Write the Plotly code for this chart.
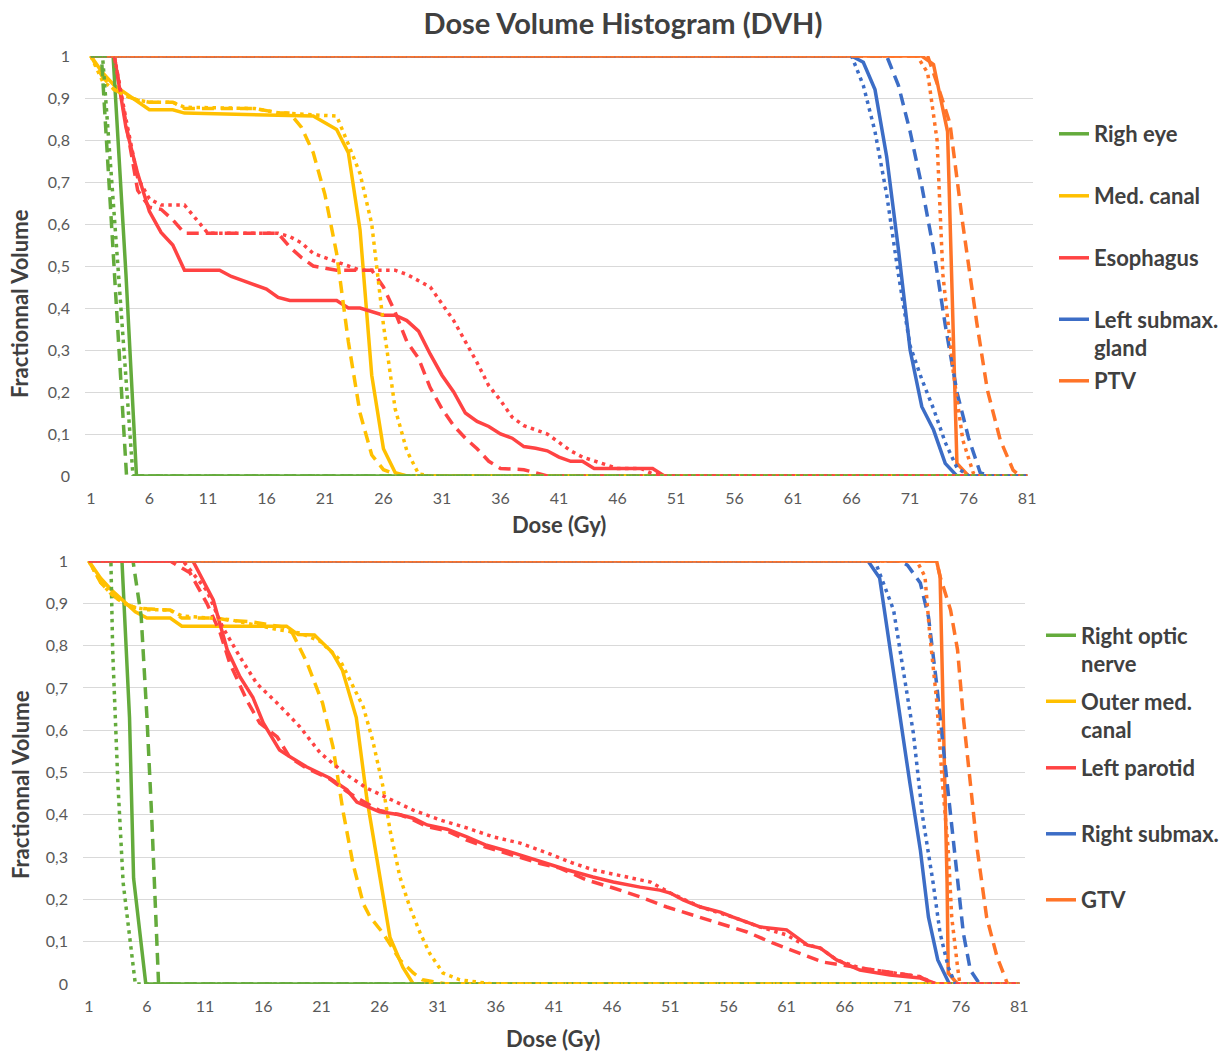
import plotly.graph_objects as go

W, H = 1222, 1051

# ------------------------------------------------------------------ labels
TITLE = "Dose Volume Histogram (DVH)"
X_TITLE = "Dose (Gy)"
Y_TITLE = "Fractionnal Volume"
TOP_NAMES = ["Righ eye", "Med. canal", "Esophagus", "Left submax.<br>gland", "PTV"]
BOTTOM_NAMES = ["Right optic<br>nerve", "Outer med.<br>canal", "Left parotid", "Right submax.", "GTV"]
X_TICKS = [1, 6, 11, 16, 21, 26, 31, 36, 41, 46, 51, 56, 61, 66, 71, 76, 81]
Y_TICKS = [0, 0.1, 0.2, 0.3, 0.4, 0.5, 0.6, 0.7, 0.8, 0.9, 1]

# ------------------------------------------------------------------ top chart data (dose Gy, fractional volume)
# Righ eye
T_EYE_SOLID_D = [1, 2.9, 4.0, 4.9, 81]
T_EYE_SOLID_V = [1, 1, 0.48, 0, 0]
T_EYE_DASH_D = [1, 1.9, 3.0, 4.05, 81]
T_EYE_DASH_V = [1, 1, 0.49, 0, 0]
T_EYE_DOT_D = [1, 2.0, 3.0, 4.0, 4.6, 81]
T_EYE_DOT_V = [1, 1, 0.62, 0.23, 0, 0]
# Med. canal
T_CAN_SOLID_D = [1, 2, 3, 4, 5, 6, 8, 9, 20, 21, 22, 23, 24, 25, 26, 27, 28, 81]
T_CAN_SOLID_V = [1, 0.96, 0.93, 0.91, 0.89, 0.872, 0.872, 0.864, 0.857, 0.84, 0.825, 0.77, 0.586, 0.24, 0.065, 0.008, 0, 0]
T_CAN_DASH_D = [1, 2, 3, 4, 5, 6, 8, 9, 15, 17, 18, 19, 20, 21, 22, 23, 24, 25, 26, 27, 28, 81]
T_CAN_DASH_V = [1, 0.95, 0.92, 0.905, 0.895, 0.89, 0.89, 0.875, 0.875, 0.865, 0.864, 0.83, 0.77, 0.67, 0.53, 0.32, 0.15, 0.05, 0.015, 0.004, 0, 0]
T_CAN_DOT_D = [1, 2, 3, 4, 5, 6, 8, 9, 15, 17, 20, 22, 23, 24, 25, 26, 27, 28, 29, 30, 81]
T_CAN_DOT_V = [1, 0.94, 0.92, 0.905, 0.895, 0.89, 0.89, 0.878, 0.875, 0.865, 0.86, 0.857, 0.79, 0.72, 0.6, 0.36, 0.16, 0.06, 0.005, 0, 0]
# Esophagus
T_ESO_SOLID_D = [1, 3, 4, 5, 6, 7, 8, 9, 12, 13, 14, 15, 16, 17, 18, 22, 23, 24, 25, 26, 27, 28, 29, 30, 31, 32,
                 33, 34, 35, 36, 37, 38, 39, 40, 41, 42, 43, 44, 49, 50, 81]
T_ESO_SOLID_V = [1, 1, 0.83, 0.72, 0.63, 0.58, 0.55, 0.49, 0.49, 0.475, 0.465, 0.455, 0.445, 0.425, 0.418, 0.418,
                 0.40, 0.40, 0.392, 0.383, 0.383, 0.37, 0.345, 0.29, 0.24, 0.2, 0.15, 0.13, 0.118, 0.1, 0.09, 0.07,
                 0.066, 0.06, 0.045, 0.035, 0.035, 0.018, 0.018, 0, 0]
T_ESO_DASH_D = [1, 3, 4, 5, 6, 7, 8, 9, 17, 18, 19, 20, 21, 22, 25, 26, 27, 28, 29, 30, 31, 32, 33, 34, 35, 36,
                38, 39, 40, 81]
T_ESO_DASH_V = [1, 1, 0.84, 0.68, 0.64, 0.635, 0.61, 0.578, 0.578, 0.545, 0.52, 0.5, 0.495, 0.49, 0.49, 0.45,
                0.39, 0.32, 0.28, 0.21, 0.16, 0.12, 0.09, 0.065, 0.035, 0.018, 0.015, 0.008, 0, 0]
T_ESO_DOT_D = [1, 3, 4, 5, 6, 7, 9, 10, 11, 17, 18, 19, 20, 21, 22, 23, 24, 27, 28, 29, 30, 31, 32, 33, 34, 35,
               36, 37, 38, 39, 40, 41, 42, 43, 44, 45, 46, 48, 49, 50, 81]
T_ESO_DOT_V = [1, 1, 0.85, 0.71, 0.66, 0.645, 0.645, 0.61, 0.578, 0.578, 0.57, 0.555, 0.53, 0.52, 0.51, 0.5, 0.49,
               0.49, 0.48, 0.465, 0.45, 0.41, 0.37, 0.32, 0.27, 0.215, 0.18, 0.14, 0.12, 0.11, 0.1, 0.08, 0.06,
               0.045, 0.035, 0.027, 0.018, 0.018, 0.005, 0, 0]
# Left submax. gland
T_SUB_SOLID_D = [1, 66, 67, 68, 69, 70, 71, 72, 73, 74, 75, 81]
T_SUB_SOLID_V = [1, 1, 0.985, 0.92, 0.76, 0.54, 0.3, 0.165, 0.11, 0.03, 0, 0]
T_SUB_DASH_D = [1, 69, 70, 71, 72, 73, 74, 75, 76, 77, 78, 81]
T_SUB_DASH_V = [1, 1, 0.93, 0.82, 0.69, 0.54, 0.36, 0.2, 0.09, 0.007, 0, 0]
T_SUB_DOT_D = [1, 66, 67, 68, 69, 70, 71, 72, 73, 74, 75, 76, 81]
T_SUB_DOT_V = [1, 1, 0.93, 0.82, 0.67, 0.48, 0.31, 0.23, 0.16, 0.08, 0.02, 0, 0]
# PTV
T_PTV_SOLID_D = [1, 72, 73, 74.2, 75, 76, 81]
T_PTV_SOLID_V = [1, 1, 0.98, 0.82, 0.03, 0, 0]
T_PTV_DASH_D = [1, 72.5, 73.3, 74.4, 75.5, 76.7, 77.6, 78.7, 79.8, 80.4, 81]
T_PTV_DASH_V = [1, 1, 0.935, 0.84, 0.6, 0.364, 0.205, 0.086, 0.014, 0, 0]
T_PTV_DOT_D = [1, 71.6, 72.5, 73.3, 73.8, 74.7, 75.5, 76.4, 77, 81]
T_PTV_DOT_V = [1, 1, 0.96, 0.8, 0.48, 0.245, 0.086, 0.007, 0, 0]

# ------------------------------------------------------------------ bottom chart data
# Right optic nerve
B_NRV_SOLID_D = [1, 3.85, 4.5, 4.85, 5.9, 81]
B_NRV_SOLID_V = [1, 1, 0.63, 0.25, 0, 0]
B_NRV_DASH_D = [1, 4.8, 5.5, 6.0, 6.4, 6.8, 7.0, 81]
B_NRV_DASH_V = [1, 1, 0.87, 0.63, 0.4, 0.16, 0, 0]
B_NRV_DOT_D = [1, 2.9, 3.05, 3.5, 3.95, 5.0, 81]
B_NRV_DOT_V = [1, 1, 0.79, 0.475, 0.24, 0, 0]
# Outer med. canal
B_CAN_SOLID_D = [1, 2, 3, 4, 5, 6, 8, 9, 18, 19, 20.4, 21.1, 21.9, 22.8, 24, 24.9, 25.8, 26.9, 28, 28.9, 81]
B_CAN_SOLID_V = [1, 0.96, 0.93, 0.905, 0.88, 0.865, 0.865, 0.846, 0.846, 0.826, 0.825, 0.806, 0.785, 0.742, 0.63,
                 0.44, 0.286, 0.11, 0.04, 0, 0]
B_CAN_DASH_D = [1, 2, 3, 4, 5, 6, 8, 9, 12, 13, 15, 17, 17.7, 18.5, 19.75, 21.1, 22, 22.85, 23.7, 24.6, 25.2, 26.3,
                27.75, 28.9, 29.7, 31.8, 81]
B_CAN_DASH_V = [1, 0.95, 0.92, 0.9, 0.89, 0.887, 0.884, 0.865, 0.865, 0.86, 0.856, 0.848, 0.844, 0.83, 0.76, 0.664,
                0.56, 0.41, 0.286, 0.19, 0.158, 0.12, 0.057, 0.026, 0.01, 0, 0]
B_CAN_DOT_D = [1, 2, 3, 4, 5, 6, 8, 9, 13, 15, 17.4, 19.15, 20.9, 22.6, 23.45, 24.6, 25.4, 26.3, 26.9, 27.75, 28.6,
               29.5, 30.3, 31.45, 32.9, 35.75, 81]
B_CAN_DOT_V = [1, 0.95, 0.92, 0.9, 0.89, 0.885, 0.884, 0.87, 0.862, 0.85, 0.837, 0.83, 0.81, 0.766, 0.72, 0.655,
               0.577, 0.466, 0.364, 0.253, 0.182, 0.12, 0.073, 0.026, 0.01, 0, 0]
# Left parotid
B_PAR_SOLID_D = [1, 9.95, 11.7, 12.9, 14, 15.1, 16, 17.4, 18.3, 19.75, 21.7, 23.2, 24.05, 26, 27.75, 28.9, 30.1,
                 31.8, 33.5, 35.2, 37.5, 39.8, 42.1, 44.35, 46.1, 48.4, 50.1, 51, 52.1, 53.6, 55.3, 56.4, 58.7, 61,
                 62.8, 63.9, 65.3, 67.3, 69.9, 72.5, 73.9, 81]
B_PAR_SOLID_V = [1, 1, 0.908, 0.79, 0.726, 0.678, 0.617, 0.553, 0.537, 0.513, 0.487, 0.459, 0.43, 0.407, 0.40,
                 0.392, 0.376, 0.366, 0.348, 0.328, 0.31, 0.289, 0.27, 0.253, 0.241, 0.229, 0.222, 0.215, 0.199,
                 0.182, 0.17, 0.158, 0.135, 0.128, 0.092, 0.085, 0.057, 0.033, 0.021, 0.014, 0, 0]
B_PAR_DASH_D = [1, 8.0, 9.7, 11.15, 12.3, 13.1, 14.6, 15.7, 17.2, 18.3, 19.75, 21.7, 23.2, 24.05, 26, 27.75, 28.9,
                30.1, 31.8, 33.5, 35.2, 37.5, 39.8, 41.5, 43.8, 46.1, 48.4, 50.7, 53.0, 55.3, 57.6, 59.8, 62.2,
                64.1, 67.3, 69.9, 72.5, 73.6, 81]
B_PAR_DASH_V = [1, 1, 0.972, 0.9, 0.83, 0.76, 0.67, 0.617, 0.584, 0.535, 0.51, 0.485, 0.455, 0.44, 0.41, 0.4,
                0.388, 0.372, 0.362, 0.34, 0.323, 0.305, 0.285, 0.274, 0.246, 0.227, 0.206, 0.182, 0.163, 0.144,
                0.123, 0.097, 0.073, 0.052, 0.038, 0.028, 0.017, 0, 0]
B_PAR_DOT_D = [1, 9.1, 11.15, 12.5, 14, 15.45, 17.2, 19.15, 20.9, 23.2, 24.9, 26.6, 28.9, 31.2, 33.5, 35.75, 38.1,
               40.4, 42.6, 44.35, 47.3, 49.3, 51, 53.6, 56.4, 58.7, 61, 62.2, 63.9, 65.3, 67.3, 69.9, 72.5, 73.8, 81]
B_PAR_DOT_V = [1, 1, 0.93, 0.844, 0.773, 0.71, 0.664, 0.608, 0.546, 0.494, 0.463, 0.44, 0.411, 0.388, 0.369,
               0.348, 0.333, 0.31, 0.286, 0.27, 0.253, 0.241, 0.215, 0.182, 0.158, 0.135, 0.116, 0.097, 0.085,
               0.057, 0.038, 0.028, 0.017, 0, 0]
# Right submax.
B_SUB_SOLID_D = [1, 68, 69, 69.9, 70.8, 71.6, 72.5, 73.2, 74, 75, 81]
B_SUB_SOLID_V = [1, 1, 0.96, 0.79, 0.63, 0.475, 0.317, 0.158, 0.057, 0, 0]
B_SUB_DASH_D = [1, 70.8, 71.4, 72.5, 73.2, 73.9, 74.5, 75.1, 75.7, 76.2, 76.8, 77.6, 81]
B_SUB_DASH_V = [1, 1, 0.99, 0.948, 0.868, 0.71, 0.553, 0.395, 0.239, 0.12, 0.033, 0, 0]
B_SUB_DOT_D = [1, 68.6, 70.2, 71, 71.9, 72.7, 73.6, 74.2, 74.9, 75.5, 81]
B_SUB_DOT_V = [1, 1, 0.884, 0.749, 0.593, 0.395, 0.239, 0.12, 0.04, 0, 0]
# GTV
B_GTV_SOLID_D = [1, 73.9, 74.2, 74.5, 74.8, 74.9, 75.7, 81]
B_GTV_SOLID_V = [1, 1, 0.963, 0.63, 0.239, 0.026, 0, 0]
B_GTV_DASH_D = [1, 73.9, 74.2, 75.1, 75.7, 76.2, 76.8, 77.4, 78.2, 79.1, 80, 81]
B_GTV_DASH_V = [1, 1, 0.963, 0.884, 0.79, 0.63, 0.475, 0.317, 0.158, 0.064, 0, 0]
B_GTV_DOT_D = [1, 72.2, 72.9, 73.3, 73.9, 74.4, 74.9, 75.2, 75.7, 75.9, 81]
B_GTV_DOT_V = [1, 1, 0.963, 0.83, 0.671, 0.475, 0.317, 0.158, 0.04, 0, 0]

# ------------------------------------------------------------------ styling
COLORS = ["#64AB3C", "#FFC000", "#FF4343", "#3C6DC6", "#FF7428"]
LW = 3.5
DASHES = {"solid": "solid", "dash": "12px,7px", "dot": "3.5px,4.5px"}
FONT = "Lato"
DARK = "#404040"
GREY = "#595959"

TOP_SERIES = {
    "solid": [(T_EYE_SOLID_D, T_EYE_SOLID_V), (T_CAN_SOLID_D, T_CAN_SOLID_V), (T_ESO_SOLID_D, T_ESO_SOLID_V),
              (T_SUB_SOLID_D, T_SUB_SOLID_V), (T_PTV_SOLID_D, T_PTV_SOLID_V)],
    "dash": [(T_EYE_DASH_D, T_EYE_DASH_V), (T_CAN_DASH_D, T_CAN_DASH_V), (T_ESO_DASH_D, T_ESO_DASH_V),
             (T_SUB_DASH_D, T_SUB_DASH_V), (T_PTV_DASH_D, T_PTV_DASH_V)],
    "dot": [(T_EYE_DOT_D, T_EYE_DOT_V), (T_CAN_DOT_D, T_CAN_DOT_V), (T_ESO_DOT_D, T_ESO_DOT_V),
            (T_SUB_DOT_D, T_SUB_DOT_V), (T_PTV_DOT_D, T_PTV_DOT_V)],
}
BOTTOM_SERIES = {
    "solid": [(B_NRV_SOLID_D, B_NRV_SOLID_V), (B_CAN_SOLID_D, B_CAN_SOLID_V), (B_PAR_SOLID_D, B_PAR_SOLID_V),
              (B_SUB_SOLID_D, B_SUB_SOLID_V), (B_GTV_SOLID_D, B_GTV_SOLID_V)],
    "dash": [(B_NRV_DASH_D, B_NRV_DASH_V), (B_CAN_DASH_D, B_CAN_DASH_V), (B_PAR_DASH_D, B_PAR_DASH_V),
             (B_SUB_DASH_D, B_SUB_DASH_V), (B_GTV_DASH_D, B_GTV_DASH_V)],
    "dot": [(B_NRV_DOT_D, B_NRV_DOT_V), (B_CAN_DOT_D, B_CAN_DOT_V), (B_PAR_DOT_D, B_PAR_DOT_V),
            (B_SUB_DOT_D, B_SUB_DOT_V), (B_GTV_DOT_D, B_GTV_DOT_V)],
}
TOP_ORDER = [1, 2, 3, 4, 0]      # drawing order (last on top)
BOTTOM_ORDER = [0, 1, 3, 4, 2]

# legend centre positions (pixels from top) and legend left edge
TOP_LEG_Y = [134, 196, 258, 334, 381]
BOT_LEG_Y = [650, 716, 768, 834, 900]
TOP_LEG_X = 1054
BOT_LEG_X = 1041

fig = go.Figure()


def add_chart(series, names, order, xa, ya, legend_ids):
    for style in ["solid", "dash", "dot"]:
        for k in order:
            d, v = series[style][k]
            show = style == "solid"
            fig.add_trace(go.Scatter(
                x=d, y=v, mode="lines", name=names[k],
                line=dict(color=COLORS[k], width=LW, dash=DASHES[style]),
                xaxis=xa, yaxis=ya,
                showlegend=show, legend=legend_ids[k],
                hoverinfo="x+y",
            ))


top_leg_ids = ["legend", "legend2", "legend3", "legend4", "legend5"]
bot_leg_ids = ["legend6", "legend7", "legend8", "legend9", "legend10"]
add_chart(TOP_SERIES, TOP_NAMES, TOP_ORDER, "x", "y", top_leg_ids)
add_chart(BOTTOM_SERIES, BOTTOM_NAMES, BOTTOM_ORDER, "x2", "y2", bot_leg_ids)

axis_common = dict(
    showline=False, zeroline=False, ticks="",
    tickfont=dict(family=FONT, size=16, color=GREY),
)

top_x = [85 / W, 1033 / W]
top_y = [1 - 476 / H, 1 - 56 / H]
bot_x = [83 / W, 1025 / W]
bot_y = [1 - 984 / H, 1 - 561 / H]

legend_common = dict(
    xanchor="left", yanchor="middle", bgcolor="rgba(0,0,0,0)", borderwidth=0,
    font=dict(family=FONT, size=22, color=DARK, weight="bold"),
    valign="top", itemwidth=30, itemclick=False, itemdoubleclick=False,
)
legends = {}
for i, lid in enumerate(top_leg_ids):
    legends[lid] = dict(legend_common, x=TOP_LEG_X / W, y=1 - TOP_LEG_Y[i] / H)
for i, lid in enumerate(bot_leg_ids):
    legends[lid] = dict(legend_common, x=BOT_LEG_X / W, y=1 - BOT_LEG_Y[i] / H)

fig.update_layout(
    width=W, height=H,
    margin=dict(l=0, r=0, t=0, b=0, autoexpand=False),
    paper_bgcolor="white", plot_bgcolor="white",
    separators=", ",
    title=dict(text="<b>" + TITLE + "</b>", x=623 / W, y=1 - 24 / H, xanchor="center", yanchor="middle",
               font=dict(family=FONT, size=29, color=DARK)),
    xaxis=dict(axis_common, domain=top_x, anchor="y", range=[0.5, 81.5], tickvals=X_TICKS,
               showgrid=False, ticklabelstandoff=11),
    yaxis=dict(axis_common, domain=top_y, anchor="x", range=[0, 1], tickvals=Y_TICKS,
               showgrid=True, gridcolor="#D9D9D9", gridwidth=1, ticklabelstandoff=14),
    xaxis2=dict(axis_common, domain=bot_x, anchor="y2", range=[0.5, 81.5], tickvals=X_TICKS,
                showgrid=False, ticklabelstandoff=11),
    yaxis2=dict(axis_common, domain=bot_y, anchor="x2", range=[0, 1], tickvals=Y_TICKS,
                showgrid=True, gridcolor="#D9D9D9", gridwidth=1, ticklabelstandoff=14),
    **legends,
)

title_font = dict(family=FONT, size=22, color=DARK)
for (tx, ty, txt, ang) in [
    (20, 304, Y_TITLE, -90), (20, 785, Y_TITLE, -90),
    (559, 525, X_TITLE, 0), (553, 1038, X_TITLE, 0),
]:
    fig.add_annotation(x=tx / W, y=1 - ty / H, xref="paper", yref="paper", text="<b>" + txt + "</b>",
                       showarrow=False, textangle=ang, xanchor="center", yanchor="middle", font=title_font)

fig.write_html("out.html", config={"displayModeBar": False},
               post_script="document.body.style.margin='0';document.body.style.overflow='hidden';")
